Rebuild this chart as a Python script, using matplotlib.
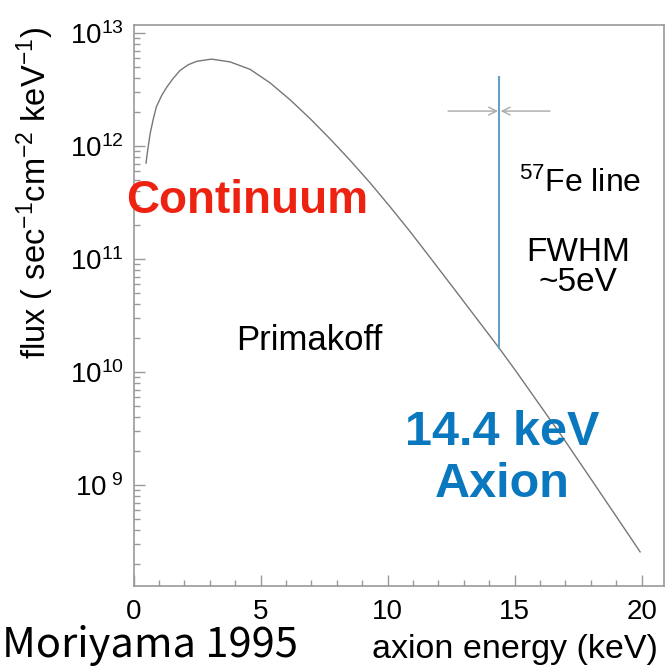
import numpy as np
import matplotlib
matplotlib.use("Agg")
import matplotlib.pyplot as plt
from matplotlib.ticker import MultipleLocator, LogLocator, FuncFormatter

plt.rcParams['font.family'] = ['Liberation Sans', 'DejaVu Sans']
plt.rcParams['mathtext.fontset'] = 'custom'
plt.rcParams['mathtext.rm'] = 'Liberation Sans'
plt.rcParams['mathtext.it'] = 'Liberation Sans'
plt.rcParams['mathtext.bf'] = 'Liberation Sans:bold'

# Primakoff solar axion spectrum (energy in keV, log10 of flux)
energy = [0.49, 0.54, 0.65, 0.78, 0.9, 1.11, 1.3, 1.56, 1.83, 2.15, 2.48,
          3.07, 3.8, 4.58, 5.37, 6.16, 6.94, 7.73, 8.52, 9.31, 10.09, 10.88,
          11.67, 12.59, 14.4, 15.08, 15.8, 16.9, 18.23, 19.94]
log_flux = [11.85, 11.94, 12.11, 12.245, 12.35, 12.45, 12.52, 12.60, 12.67,
            12.72, 12.75, 12.77, 12.745, 12.68, 12.56, 12.41, 12.245, 12.065,
            11.875, 11.675, 11.465, 11.245, 11.015, 10.745, 10.21, 10.0, 9.77,
            9.42, 8.98, 8.41]
flux = [10 ** v for v in log_flux]

# 57Fe line
line_energy = 14.4
line_bottom = 10 ** 10.21
line_top = 10 ** 12.61
fwhm_y = 10 ** 12.31
fwhm_left, fwhm_right = 12.38, 16.39

x_ticks = [0, 5, 10, 15, 20]

fig = plt.figure(figsize=(6.66, 6.66), dpi=100)
ax = fig.add_axes([0.2006, 0.12, 0.7964, 0.8425])

ax.plot(energy, flux, color='#777777', lw=1.0)
ax.plot([line_energy, line_energy], [line_bottom, line_top], color='#629fc9', lw=1.5)

arrow = dict(arrowstyle='->', color='#aaaaaa', lw=1.0, mutation_scale=14,
             shrinkA=0, shrinkB=1)
ax.annotate('', xy=(line_energy, fwhm_y), xytext=(fwhm_left, fwhm_y), arrowprops=arrow)
ax.annotate('', xy=(line_energy, fwhm_y), xytext=(fwhm_right, fwhm_y), arrowprops=arrow)

ax.set_yscale('log')
ax.set_xlim(0, 20.88)
ax.set_ylim(1.28e8, 1.18e13)

ax.xaxis.set_minor_locator(MultipleLocator(1))
ax.set_xticks(x_ticks)
ax.yaxis.set_major_locator(LogLocator(base=10))
ax.yaxis.set_minor_locator(LogLocator(base=10, subs=np.arange(2, 10)))


def fmt_pow(v, pos):
    e = int(round(np.log10(v)))
    if e < 10:
        return r'$10^{\ %d}$' % e
    return r'$10^{%d}$' % e


ax.yaxis.set_major_formatter(FuncFormatter(fmt_pow))
ax.yaxis.set_minor_formatter(FuncFormatter(lambda v, p: ''))

for s in ['top', 'right', 'left', 'bottom']:
    ax.spines[s].set_color('#999999')
    ax.spines[s].set_linewidth(1.2)
ax.tick_params(which='both', direction='in', colors='#999999', labelcolor='black',
               labelsize=20, width=1.0)
ax.tick_params(which='major', length=8)
ax.tick_params(which='minor', length=4)
ax.tick_params(axis='x', pad=9)
ax.tick_params(axis='y', pad=7)

# labels
ax.text(4.46, 10 ** 11.51, 'Continuum', color='#ee2211', fontsize=33,
        fontweight='bold', ha='center', va='center')
ax.text(6.9, 10 ** 10.2, 'Primakoff', fontsize=25, ha='center', va='baseline')
ax.text(17.57, 10 ** 11.59, r'$^{57}$Fe line', fontsize=23, ha='center', va='baseline')
ax.text(17.5, 10 ** 10.72, 'FWHM\n~5eV', fontsize=24, ha='center', va='baseline',
        linespacing=0.95)
ax.text(14.5, 10 ** 8.894, '14.4 keV\nAxion', color='#0a78be', fontsize=35,
        fontweight='bold', ha='center', va='baseline', linespacing=1.2)

fig.text(0.053, 0.71, r'flux ( sec$^{-1}$cm$^{-2}$ keV$^{-1}$)', fontsize=23.5,
         rotation=90, ha='center', va='center')
fig.text(0.988, 0.012, 'axion energy (keV)', fontsize=24.5, ha='right', va='baseline')
fig.text(0.003, 0.014, 'Moriyama 1995', fontsize=30, ha='left', va='baseline',
         family=['Noto Sans CJK JP', 'DejaVu Sans'])

fig.savefig('out.png', dpi=100)
